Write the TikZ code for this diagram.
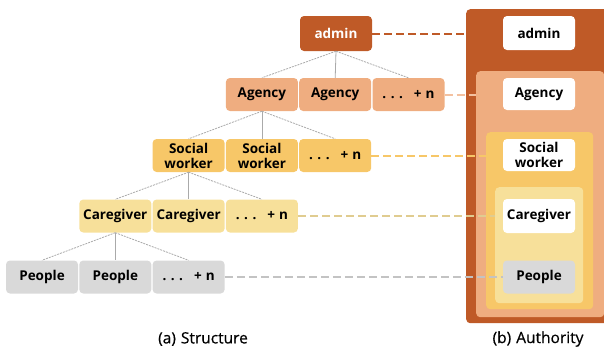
\documentclass[tikz,border=0pt]{standalone}
\usepackage{fontspec}
\setmainfont{Open Sans}
\newfontfamily\capfont[FakeBold=0.5]{Open Sans}
\definecolor{cAdmin}{HTML}{BF5A27}
\definecolor{cAgency}{HTML}{EFAD80}
\definecolor{cSocial}{HTML}{F7C768}
\definecolor{cCare}{HTML}{F7E09A}
\definecolor{cPeople}{HTML}{D9D9D9}
\definecolor{cTree}{HTML}{AAAAAA}
\newcommand{\moren}{.\hspace{4.5pt}.\hspace{4.5pt}.\hspace{11pt}+\hspace{4pt}n}
\tikzset{
  box/.style={rounded corners=4pt, minimum width=72pt, minimum height=33pt,
    inner sep=0pt, align=center, font=\fontsize{13.5}{15}\selectfont\bfseries,
    text=black},
  panel/.style={rounded corners=4pt, inner sep=0pt, anchor=north west},
  branch/.style={draw=cTree, line width=0.8pt, dash pattern=on 2pt off 1pt},
  trunk/.style={draw=cTree, line width=0.8pt},
  link/.style={line width=2pt, dash pattern=on 8pt off 4pt},
  caption/.style={font=\capfont\fontsize{15.5}{18}\selectfont}
}
\begin{document}
\begin{tikzpicture}[x=1pt, y=-1pt]
\useasboundingbox (0,0) rectangle (604,349);

% ---- tree (structure) ----
\node[box, fill=cAdmin, text=white, minimum height=35pt] (admin) at (336,33.5) {admin};

\node[box, fill=cAgency] (ag1) at (261.9,94.5) {Agency};
\node[box, fill=cAgency] (ag2) at (335.2,94.5) {Agency};
\node[box, fill=cAgency] (ag3) at (408.5,94.5) {\moren};

\node[box, fill=cSocial] (sw1) at (188.6,155.5) {Social\\worker};
\node[box, fill=cSocial] (sw2) at (261.9,155.5) {Social\\worker};
\node[box, fill=cSocial] (sw3) at (335.2,155.5) {\moren};

\node[box, fill=cCare] (cg1) at (115.3,216) {Caregiver};
\node[box, fill=cCare] (cg2) at (188.6,216) {Caregiver};
\node[box, fill=cCare] (cg3) at (261.9,216) {\moren};

\node[box, fill=cPeople] (pp1) at (42,277) {People};
\node[box, fill=cPeople] (pp2) at (115.3,277) {People};
\node[box, fill=cPeople] (pp3) at (188.6,277) {\moren};

% branches: dashed to side children, solid to the middle one
\foreach \p/\a/\b/\c in {admin/ag1/ag2/ag3, ag1/sw1/sw2/sw3, sw1/cg1/cg2/cg3, cg1/pp1/pp2/pp3}{
  \draw[branch] (\p.south) -- (\a.north);
  \draw[trunk]  (\p.south) -- (\b.north);
  \draw[branch] (\p.south) -- (\c.north);
}

% ---- nested panels (authority) ----
\node[panel, fill=cAdmin, minimum width=142pt, minimum height=314pt] (pAdmin) at (466,9) {};
\node[panel, fill=cAgency, minimum width=128pt, minimum height=246pt] (pAgency) at (476,71) {};
\node[panel, fill=cSocial, minimum width=107pt, minimum height=177pt] (pSocial) at (486,132) {};
\node[panel, fill=cCare, minimum width=88pt, minimum height=116pt] (pCare) at (495,187) {};

\node[box, fill=white, minimum height=34pt] (rAdmin) at (539,33) {admin};
\node[box, fill=white, minimum height=32pt] (rAgency) at (539,94) {Agency};
\node[box, fill=white, minimum height=32pt] (rSocial) at (539,155) {Social\\worker};
\node[box, fill=white, minimum height=34pt] (rCare) at (539,216) {Caregiver};
\node[box, fill=cPeople, minimum height=33pt] (rPeople) at (539,277) {People};

% ---- level links ----
\draw[link, draw=cAdmin] (admin.east) -- (pAdmin.west |- admin.east);
\draw[link, draw=cAgency!75!white] (ag3.east) -- (pAgency.west |- ag3.east);
\draw[link, draw=cSocial] (sw3.east) -- (pSocial.west |- sw3.east);
\draw[link, draw=cCare!90!black!95] (cg3.east) -- (pCare.west |- cg3.east);
\draw[link, draw=cPeople!90!black] (pp3.east) -- (rPeople.west);

% ---- captions ----
\node[caption] (capA) at (203,339) {(a)\hspace{5pt}Structure};
\node[caption] (capB) at (538,339) {(b)\hspace{5pt}Authority};
\end{tikzpicture}
\end{document}
